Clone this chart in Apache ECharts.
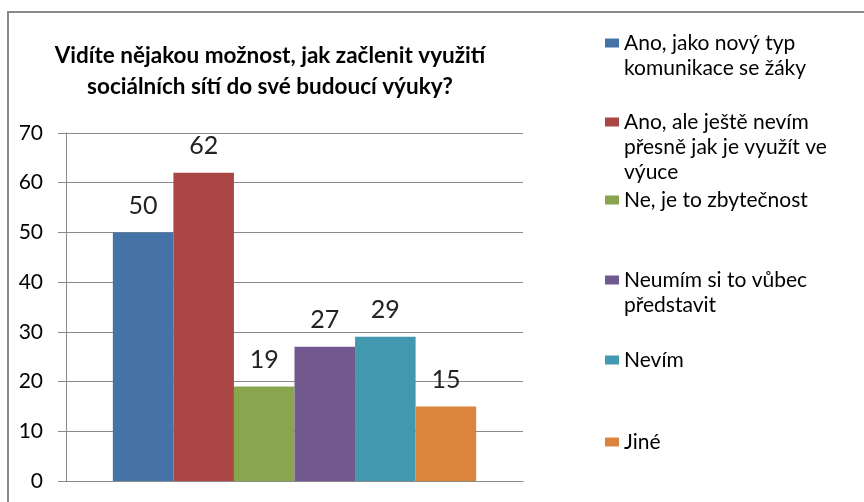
<!DOCTYPE html>
<html>
<head>
<meta charset="utf-8">
<script src="https://cdn.jsdelivr.net/npm/echarts@6/dist/echarts.min.js"></script>
<style>
html,body{margin:0;padding:0;background:#fff;}
#chart{width:864px;height:502px;}
</style>
</head>
<body>
<div id="chart"></div>
<script>
const titleText = 'Vidíte nějakou možnost, jak začlenit využití\nsociálních sítí do své budoucí výuky?';
const categories = [''];
const seriesNames = [
  'Ano, jako nový typ\nkomunikace se žáky',
  'Ano, ale ještě nevím\npřesně jak je využít ve\nvýuce',
  'Ne, je to zbytečnost',
  'Neumím si to vůbec\npředstavit',
  'Nevím',
  'Jiné'
];
const values = [50, 62, 19, 27, 29, 15];
const colors = ['#4572A7', '#AA4643', '#89A54E', '#71588F', '#4198AF', '#DB843D'];
const yMin = 0, yMax = 70, yInterval = 10;

const FONT = 'Lato';
const legendCenters = [43, 122, 200, 280, 360, 442];
const LH = 25;

const chart = echarts.init(document.getElementById('chart'));

const legends = seriesNames.map((name, i) => {
  const lines = name.split('\n').length;
  const N = 2 * lines - 1;
  return {
    data: [name],
    left: 605,
    top: legendCenters[i] - N * LH / 2,
    padding: 0,
    itemWidth: 14,
    itemHeight: 9,
    icon: 'rect',
    selectedMode: false,
    formatter: function (n) {
      const k = n.split('\n').length - 1;
      return '\n'.repeat(k) + n;
    },
    textStyle: { fontFamily: FONT, fontSize: 21, color: '#000', lineHeight: LH }
  };
});

chart.setOption({
  animation: false,
  backgroundColor: '#fff',
  graphic: [{
    type: 'rect',
    shape: { x: 8, y: 12, width: 900, height: 600 },
    style: { fill: 'none', stroke: '#8a8a8a', lineWidth: 2 },
    silent: true
  }],
  title: {
    text: titleText,
    left: 265,
    top: 35,
    textAlign: 'center',
    textStyle: { fontFamily: FONT, fontSize: 22.5, fontWeight: 'bold', color: '#000', lineHeight: 31 }
  },
  legend: legends,
  grid: { left: 66, right: 341, top: 133, bottom: 21 },
  xAxis: {
    type: 'category',
    data: categories,
    axisTick: { show: false },
    axisLabel: { show: false },
    axisLine: { lineStyle: { color: '#8a8a8a', width: 1 } }
  },
  yAxis: {
    type: 'value',
    min: yMin, max: yMax, interval: yInterval,
    axisLine: { show: true, lineStyle: { color: '#8a8a8a', width: 1 } },
    axisTick: { show: true, length: 8, lineStyle: { color: '#8a8a8a' } },
    splitLine: { lineStyle: { color: '#8a8a8a', width: 1 } },
    axisLabel: { margin: 23, fontFamily: FONT, fontSize: 21, color: '#000' }
  },
  series: seriesNames.map((name, i) => ({
    type: 'bar',
    name: name,
    data: [values[i]],
    barGap: '0%',
    barCategoryGap: '20.5%',
    itemStyle: { color: colors[i] },
    label: {
      show: true, position: 'top', distance: 14,
      fontFamily: FONT, fontSize: 25, color: '#222'
    }
  }))
});
</script>
</body>
</html>
